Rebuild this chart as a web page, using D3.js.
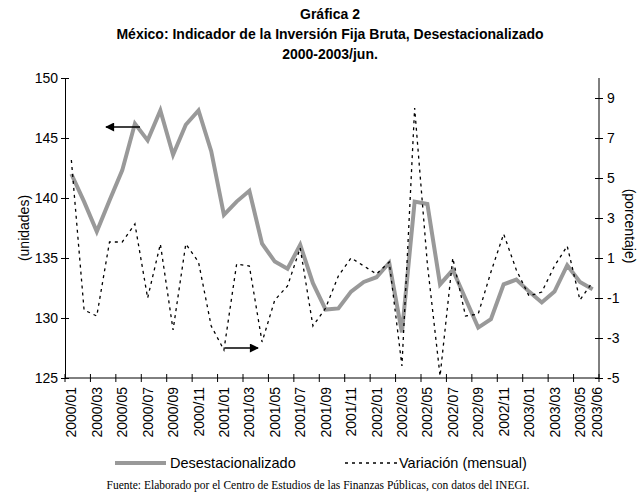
<!DOCTYPE html>
<html lang="es">
<head>
<meta charset="UTF-8">
<title>Gráfica 2</title>
<style>
  *{margin:0;padding:0;}
  body{background:#fff;}
  text{font-family:"Liberation Sans", Arial, sans-serif;}
</style>
</head>
<body>
<div id="container"></div>
<script src="https://cdn.jsdelivr.net/npm/d3@7"></script>
<script>
// meses 2000/01 .. 2003/06
var months = [];
for (var y = 2000; y <= 2003; y++) {
  for (var m = 1; m <= 12; m++) {
    if (y == 2003 && m > 6) break;
    months.push(y + '/' + (m < 10 ? '0' + m : m));
  }
}
var tickLabels = months.filter(function (d, i) { return i % 2 == 0; }).concat(['2003/06']);

// indice desestacionalizado (eje izq.)
var desest = [142.0, 139.7, 137.2, 139.8, 142.3, 146.2, 144.8, 147.3, 143.6, 146.1, 147.3, 143.9,
              138.6, 139.7, 140.6, 136.2, 134.7, 134.1, 136.1, 132.9, 130.7, 130.8, 132.2, 133.0,
              133.4, 134.6, 128.8, 139.7, 139.5, 132.8, 134.0, 131.6, 129.2, 129.9, 132.8, 133.2,
              132.2, 131.3, 132.2, 134.4, 133.0, 132.4];
// variacion mensual % (eje der.)
var variacion = [5.9, -1.6, -1.9, 1.8, 1.8, 2.7, -1.0, 1.7, -2.6, 1.7, 0.8, -2.4,
                 -3.6, 0.7, 0.6, -3.2, -1.1, -0.4, 1.5, -2.4, -1.5, 0.1, 1.0, 0.6,
                 0.2, 0.8, -4.4, 8.5, 0.7, -4.9, 1.0, -1.9, -1.8, 0.3, 2.2, 0.4,
                 -0.9, -0.7, 0.6, 1.6, -1.1, -0.2];
var leftTicks = [125, 130, 135, 140, 145, 150];
var rightTicks = [-5, -3, -1, 1, 3, 5, 7, 9];

var width = 638, height = 494;
var plot = {left: 65, right: 599, top: 78, bottom: 378};

var svg = d3.select('#container').append('svg')
  .attr('width', width).attr('height', height);

var x = d3.scaleBand().domain(months).range([plot.left, plot.right]);
var yL = d3.scaleLinear().domain([125, 150]).range([plot.bottom, plot.top]);
var yR = d3.scaleLinear().domain([-5, 10]).range([plot.bottom, plot.top]);
var cx = function (d) { return x(d) + x.bandwidth() / 2; };

// titulos
var titles = ['Gráfica 2', 'México: Indicador de la Inversión Fija Bruta, Desestacionalizado', '2000-2003/jun.'];
svg.selectAll('.title').data(titles).enter().append('text')
  .attr('x', 330).attr('y', function (d, i) { return 19 + i * 20; })
  .attr('text-anchor', 'middle')
  .style('font-weight', 'bold').style('font-size', '14px')
  .text(function (d) { return d; });

// ejes
var axL = svg.append('g').attr('transform', 'translate(' + plot.left + ',0)')
  .call(d3.axisLeft(yL).tickValues(leftTicks).tickSize(4).tickSizeOuter(0));
var axR = svg.append('g').attr('transform', 'translate(' + plot.right + ',0)')
  .call(d3.axisRight(yR).tickValues(rightTicks).tickSize(4).tickSizeOuter(0));
[axL, axR].forEach(function (a) {
  a.select('.domain').attr('stroke', '#000');
  a.selectAll('.tick line').attr('x1', -4).attr('x2', 4).attr('stroke', '#000');
  a.selectAll('.tick text').style('font-size', '14px').attr('fill', '#000');
});
axL.selectAll('.tick text').attr('x', -7);
axR.selectAll('.tick text').attr('x', 8).text(function (d) { return d < 0 ? '-' + Math.abs(d) : d; });
axR.select('.domain').attr('d', 'M0,' + plot.top + 'V' + plot.bottom);

// eje x
var xAxis = svg.append('g').attr('transform', 'translate(0,' + plot.bottom + ')');
xAxis.append('line').attr('x1', plot.left).attr('x2', plot.right).attr('stroke', '#000');
var tickPos = d3.range(0, months.length + 1, 2).map(function (i) { return plot.left + i * x.step(); });
xAxis.selectAll('.xt').data(tickPos).enter().append('line')
  .attr('x1', function (d) { return d; }).attr('x2', function (d) { return d; })
  .attr('y1', -4).attr('y2', 4).attr('stroke', '#000');
xAxis.selectAll('.xl').data(tickLabels).enter().append('text')
  .attr('transform', function (d) {
    var px = d == '2003/06' ? plot.right - 2 : cx(d);
    return 'translate(' + (px + 5) + ',9) rotate(-90)';
  })
  .attr('text-anchor', 'end')
  .style('font-size', '14px')
  .text(function (d) { return d; });

// titulos de ejes
svg.append('text').attr('transform', 'translate(29,228) rotate(-90)')
  .attr('text-anchor', 'middle').style('font-size', '14px').text('(unidades)');
svg.append('text').attr('transform', 'translate(625,226) rotate(90)')
  .attr('text-anchor', 'middle').style('font-size', '14px').text('(porcentaje)');

// series
var lineL = d3.line().x(function (d, i) { return cx(months[i]); }).y(function (d) { return yL(d); });
var lineR = d3.line().x(function (d, i) { return cx(months[i]); }).y(function (d) { return yR(d); });
svg.append('path').datum(desest).attr('d', lineL)
  .attr('fill', 'none').attr('stroke', '#999').attr('stroke-width', 4);
svg.append('path').datum(variacion).attr('d', lineR)
  .attr('fill', 'none').attr('stroke', '#000').attr('stroke-width', 1.3).attr('stroke-dasharray', '3,4');

// flechas
var defs = svg.append('defs');
defs.append('marker').attr('id', 'arr').attr('viewBox', '0 0 10 10')
  .attr('refX', 9).attr('refY', 5).attr('markerWidth', 7).attr('markerHeight', 6)
  .attr('orient', 'auto')
  .append('path').attr('d', 'M0,0L10,5L0,10Z').attr('fill', '#000');
svg.append('line').attr('x1', 140).attr('y1', 127).attr('x2', 106).attr('y2', 127)
  .attr('stroke', '#000').attr('stroke-width', 1.5).attr('marker-end', 'url(#arr)');
svg.append('line').attr('x1', 225).attr('y1', 348).attr('x2', 258).attr('y2', 348)
  .attr('stroke', '#000').attr('stroke-width', 1.5).attr('marker-end', 'url(#arr)');

// leyenda
var leg = svg.append('g').attr('transform', 'translate(0,463)');
leg.append('line').attr('x1', 115).attr('x2', 166).attr('stroke', '#999').attr('stroke-width', 4);
leg.append('text').attr('x', 170).attr('y', 5).style('font-size', '14.5px').text('Desestacionalizado');
leg.append('line').attr('x1', 345).attr('x2', 398).attr('stroke', '#000').attr('stroke-width', 1.3).attr('stroke-dasharray', '3,4');
leg.append('text').attr('x', 399).attr('y', 5).style('font-size', '14.5px').text('Variación (mensual)');

// fuente
svg.append('text').attr('x', 318).attr('y', 489).attr('text-anchor', 'middle')
  .style('font-family', '"Liberation Serif", "Times New Roman", serif').style('font-size', '11.5px')
  .text('Fuente: Elaborado por el Centro de Estudios de las Finanzas Públicas, con datos del INEGI.');
</script>
</body>
</html>
